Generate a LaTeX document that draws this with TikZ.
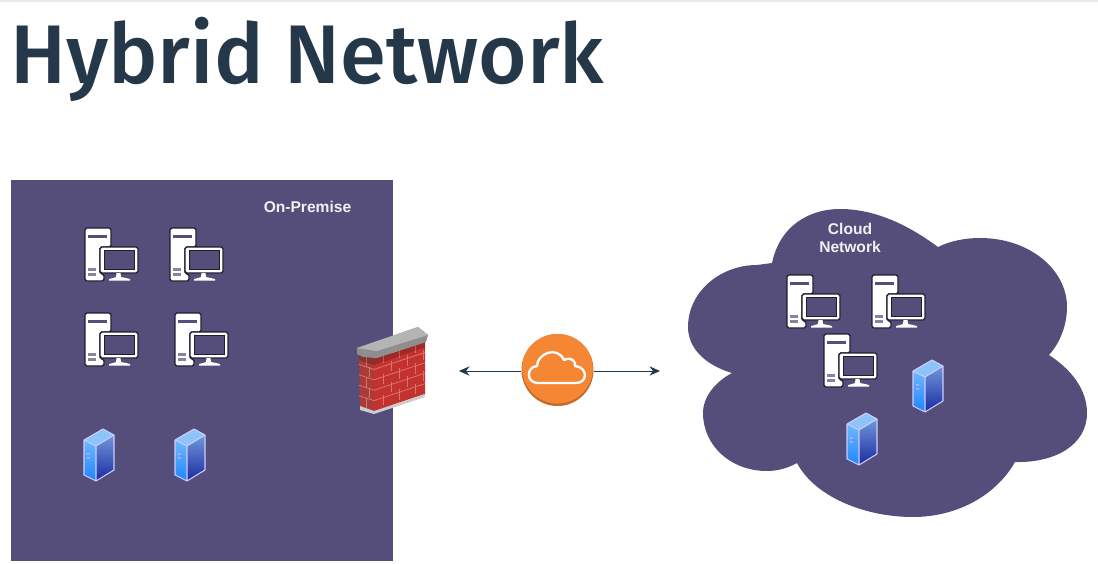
\documentclass[tikz,border=0pt]{standalone}
\usepackage{fontspec}
\setmainfont{Liberation Sans}
\newfontfamily\titlefont[BoldFont={Fira Sans Medium}]{Fira Sans}
\usetikzlibrary{arrows.meta}
\definecolor{panelpurple}{HTML}{554D7A}
\definecolor{titleink}{HTML}{25384A}
\definecolor{arrowink}{HTML}{1F3A4A}
\definecolor{awsorange}{HTML}{F58634}
\definecolor{awsshade}{HTML}{C26A26}
\definecolor{brickred}{HTML}{C4322F}
\definecolor{brickdark}{HTML}{A93B38}
\definecolor{mortar}{HTML}{D9746C}
\definecolor{capgrey}{HTML}{8E8E8E}
\definecolor{caplight}{HTML}{B4B4B4}
\definecolor{pcline}{HTML}{1E1C30}
\definecolor{srvtop}{HTML}{8CC4FA}
\definecolor{srvlefta}{HTML}{6FB8FF}
\definecolor{srvleftb}{HTML}{1E86FF}
\definecolor{srvrighta}{HTML}{7096DC}
\definecolor{srvrightb}{HTML}{1A2C9E}
\tikzset{
    computer/.pic={
        \draw[draw=pcline, fill=white, line width=1pt, rounded corners=1.5pt]
            (0,0) -- (26,0) -- (26,19) -- (15,19) -- (15,46) -- (19,46) -- (19,53) -- (0,53) -- cycle;
        \fill[panelpurple] (3,7) rectangle (22,10);
        \fill[panelpurple!70] (3,40) rectangle (11,42.5);
        \fill[panelpurple!70] (3,45) rectangle (11,47.5);
        \draw[draw=pcline, fill=white, line width=1pt, rounded corners=1.5pt] (15,19) rectangle (53,45);
        \draw[draw=pcline, fill=panelpurple, line width=0.7pt] (19,22) rectangle (49,41);
        \fill[white] (31.5,45) -- (35.5,45) -- (36,49) -- (41,50) -- (45,51) -- (45,52.5) -- (24,52.5) -- (24,51) -- (28,50) -- (31,49) -- cycle;
    },
    server/.pic={
        \fill[srvtop] (0,11) -- (19,0) -- (30,6) -- (12,17) -- cycle;
        \shade[top color=srvlefta, bottom color=srvleftb] (0,11) -- (12,17) -- (12,52) -- (0,46) -- cycle;
        \shade[top color=srvrighta, bottom color=srvrightb] (12,17) -- (30,6) -- (30,41) -- (12,52) -- cycle;
        \draw[white!80!blue, line width=0.9pt, line join=round]
            (0,11) -- (19,0) -- (30,6) -- (30,41) -- (12,52) -- (0,46) -- cycle
            (0,11) -- (12,17) -- (30,6) (12,17) -- (12,52);
        \fill[white!70!blue] (3,24) rectangle (6,25.5) (3,28) rectangle (6,29.5);
    },
    firewall/.pic={
        % brick faces
        \fill[brickdark] (2,27) -- (17,32) -- (17,84) -- (3,79) -- cycle;
        \fill[brickred] (17,32) -- (68,15) -- (68,67) -- (17,84) -- cycle;
        \foreach \k in {1,2,3,4} {
            \draw[mortar, line width=0.7pt] (2,27+\k*10.4) -- (17,32+\k*10.4) -- (68,15+\k*10.4);
        }
        \foreach \k/\s in {0/0,1/8,2/0,3/8,4/0} {
            \foreach \i in {0,1,2} {
                \draw[mortar, line width=0.7pt]
                    ({26+\s+\i*16},{29+\k*10.4-(9+\s+\i*16)/3}) -- ++(0,10.4);
            }
            \draw[mortar, line width=0.7pt] ({9+\s*0.4},{29.5+\k*10.4}) -- ++(0,10.4);
        }
        % shadow under the cap
        \fill[black, opacity=0.18] (2,27) -- (17,32) -- (68,15) -- (68,20) -- (17,38) -- (2,33) -- cycle;
        % base and cap
        \fill[gray!40] (3,79) -- (17,84) -- (68,67) -- (68,70) -- (17,87) -- (3,83) -- cycle;
        \fill[capgrey] (0,21) -- (61,0) -- (71,8) -- (69,15) -- (20,31) -- (6,30) -- (0,27) -- cycle;
        \fill[caplight] (0,21) -- (61,0) -- (71,8) -- (20,24) -- cycle;
    }
}
\begin{document}
\begin{tikzpicture}[x=0.03cm, y=-0.03cm,
        panel/.style={fill=panelpurple, draw=none},
        heading/.style={font=\titlefont\bfseries\fontsize{71}{71}\selectfont, text=titleink, inner sep=0pt},
        caption/.style={font=\bfseries\fontsize{13.3}{15.4}\selectfont, text=white!92!panelpurple, align=center, inner sep=0pt},
        gateway/.style={circle, fill=awsshade, minimum size=2.16cm, inner sep=0pt,
            path picture={\fill[awsorange] ([yshift=1.5pt]path picture bounding box.center) circle (1.06cm);}},
        arrow/.style={draw=arrowink, line width=0.8pt, -{Stealth[length=9pt, width=8pt, inset=3pt]}}
    ]
    \useasboundingbox (0,0) rectangle (1098,563);
    \fill[black!8] (0,0) rectangle (1098,2);

    % Title
    \node[heading, anchor=base west] (title) at (10,83) {Hybrid Network};

    % On-premise side
    \fill[panel] (11,180) rectangle (393,561);
    \node[caption] (onprem) at (307.5,207) {On-Premise};
    \pic (pca) at (85,228) {computer};
    \pic (pcb) at (170,228) {computer};
    \pic (pcc) at (85,313) {computer};
    \pic (pcd) at (175,313) {computer};
    \pic (srva) at (84,429) {server};
    \pic (srvb) at (175,429) {server};
    \pic (wall) at (357,327) {firewall};

    % Cloud side
    \fill[panel] (772,263) .. controls (780,225) and (810,209) .. (840,209)
        .. controls (880,209) and (915,230) .. (938,247)
        .. controls (950,241) and (965,238) .. (980,238)
        .. controls (1030,238) and (1067,270) .. (1067,307)
        .. controls (1067,325) and (1060,343) .. (1049,355)
        .. controls (1072,370) and (1087,390) .. (1087,413)
        .. controls (1087,445) and (1055,463) .. (1015,462)
        .. controls (995,497) and (955,517) .. (913,517)
        .. controls (865,517) and (815,497) .. (797,463)
        .. controls (788,468) and (778,471) .. (767,471)
        .. controls (730,471) and (703,445) .. (703,413)
        .. controls (703,397) and (715,382) .. (732,373)
        .. controls (705,365) and (688,348) .. (688,327)
        .. controls (688,292) and (720,265) .. (757,265)
        -- cycle;
    \node[caption] (cloudnet) at (850,238) {Cloud\\Network};
    \pic (pce) at (787,275) {computer};
    \pic (pcf) at (872,275) {computer};
    \pic (pcg) at (824,334) {computer};
    \pic (srvc) at (913,360) {server};
    \pic (srvd) at (847,413) {server};

    % Gateway and arrows
    \node[gateway] (gate) at (557.5,370) {};
    \coordinate (leftend) at (459,371);
    \coordinate (rightend) at (660,371);
    \draw[arrow] (gate.west |- leftend) -- (leftend);
    \draw[arrow] (gate.east |- rightend) -- (rightend);
    \draw[white, line width=2pt, line join=round]
        (538,383) .. controls (526,383) and (526,367) .. (537,366)
        .. controls (537,354) and (557,345) .. (564,360)
        .. controls (572,356) and (576,362) .. (575,366)
        .. controls (588,367) and (588,383) .. (576,383) -- cycle;
\end{tikzpicture}
\end{document}
